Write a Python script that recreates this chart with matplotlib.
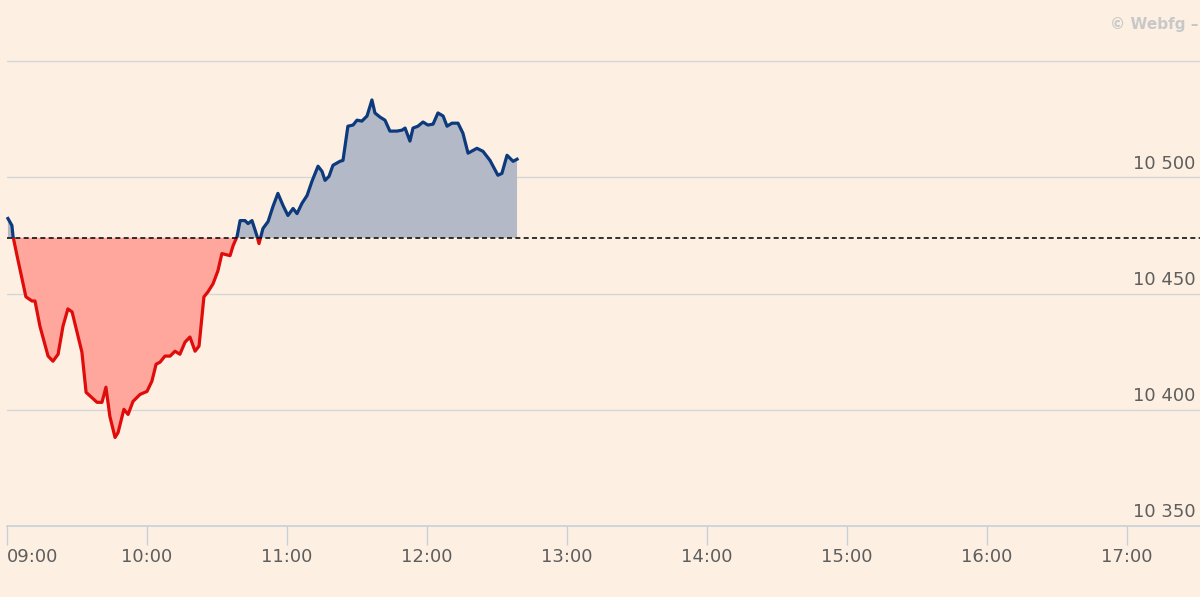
import matplotlib
matplotlib.use("Agg")
import matplotlib.pyplot as plt
from matplotlib.patches import Rectangle
import numpy as np

# minutes after 09:00
minutes = [0.4, 2.1, 2.6, 4.3, 8.1, 10.7, 12.0, 14.1, 17.6, 19.7, 21.9, 24.0, 26.1, 27.9,
           32.1, 33.9, 38.6, 40.7, 42.4, 44.1, 46.3, 47.6, 50.1, 51.9, 54.0, 57.0, 60.0,
           62.1, 63.9, 65.6, 67.7, 69.9, 72.0, 74.1, 76.3, 78.4, 80.6, 82.3, 84.4, 86.1,
           88.3, 90.4, 92.1, 95.6, 96.9, 98.6, 99.9, 102.0, 103.3, 105.0, 107.1, 108.0,
           109.7, 111.9, 114.0, 116.1, 118.3, 120.4, 122.6, 124.3, 126.4, 128.6, 130.7,
           133.3, 135.0, 136.3, 138.0, 139.7, 142.7, 144.0, 146.1, 148.3, 150.0, 152.1,
           154.3, 156.4, 157.7, 159.9, 162.0, 164.1, 167.1, 169.3, 170.6, 172.7, 174.0,
           176.1, 178.3, 180.4, 182.6, 184.7, 186.9, 188.6, 190.7, 193.3, 195.4, 197.6,
           201.4, 204.0, 207.0, 210.4, 212.1, 214.3, 216.9, 218.6]
values = [10482.3, 10479.3, 10474.5, 10466.3, 10448.6, 10446.8, 10446.8, 10436.0, 10423.1,
          10420.9, 10423.9, 10436.0, 10443.4, 10442.1, 10424.8, 10407.5, 10403.2, 10403.2,
          10409.7, 10397.1, 10388.1, 10390.2, 10400.2, 10398.0, 10403.6, 10406.6, 10407.9,
          10412.3, 10419.6, 10420.5, 10423.1, 10423.1, 10425.2, 10423.9, 10429.1, 10431.3,
          10425.2, 10427.4, 10448.6, 10450.7, 10454.2, 10459.8, 10467.2, 10466.3, 10470.6,
          10474.5, 10481.4, 10481.4, 10480.1, 10481.4, 10474.9, 10471.5, 10478.0, 10481.0,
          10487.5, 10493.1, 10487.9, 10483.6, 10486.6, 10484.4, 10488.8, 10492.2, 10498.3,
          10504.8, 10502.6, 10498.7, 10500.4, 10505.2, 10506.9, 10507.3, 10522.0, 10522.5,
          10524.6, 10524.2, 10526.4, 10533.3, 10527.7, 10525.9, 10524.6, 10519.9, 10519.9,
          10520.3, 10521.2, 10515.6, 10521.2, 10522.0, 10523.8, 10522.5, 10522.9, 10527.7,
          10526.4, 10522.0, 10523.3, 10523.3, 10519.0, 10510.4, 10512.5, 10511.2, 10507.3,
          10500.9, 10501.7, 10509.5, 10506.9, 10507.8]
previous_close = 10474
tick_minutes = [0, 60, 120, 180, 240, 300, 360, 420, 480]
tick_labels = ["09:00", "10:00", "11:00", "12:00", "13:00", "14:00", "15:00", "16:00", "17:00"]
y_ticks = [10350, 10400, 10450, 10500, 10550]
y_labels = ["10 350", "10 400", "10 450", "10 500", ""]

BG = "#fdf0e2"
x = np.array(minutes)
y = np.array(values)

fig = plt.figure(figsize=(12, 5.97), dpi=100, facecolor=BG)
ax = fig.add_axes([7/1200, 71/597, 1 - 7/1200, 526/597])
ax.set_facecolor(BG)
ax.set_xlim(0, 511.3)
ax.set_ylim(10350, 10576.3)

# grid lines
for v in y_ticks[1:]:
    ax.axhline(v, color="#d6d6d6", lw=1.0, zorder=1)

# fills
ax.fill_between(x, y, previous_close, where=y <= previous_close, interpolate=True,
                color="#ffa79c", lw=0, zorder=2)
ax.fill_between(x, y, previous_close, where=y >= previous_close, interpolate=True,
                color="#b4b9c7", lw=0, zorder=2)

# line, coloured by side of baseline
above = Rectangle((-10, previous_close), 600, 1000, transform=ax.transData)
below = Rectangle((-10, previous_close - 1000), 600, 1000, transform=ax.transData)
lb, = ax.plot(x, y, color="#0d3a7c", lw=2.3, zorder=4, solid_joinstyle="round")
lb.set_clip_path(above)
lr, = ax.plot(x, y, color="#e00b0b", lw=2.3, zorder=4, solid_joinstyle="round")
lr.set_clip_path(below)

# previous close dashed line
ax.axhline(previous_close, color="#111111", lw=1.2, ls=(0, (3, 2)), zorder=5)

# axes styling
for s in ["top", "right", "left"]:
    ax.spines[s].set_visible(False)
ax.spines["bottom"].set_color("#c5d0da")
ax.spines["bottom"].set_linewidth(1.2)
ax.set_yticks([])
ax.set_xticks(tick_minutes)
ax.set_xticklabels(tick_labels)
ax.tick_params(axis="x", length=14, width=1.0, colors="#c5d0da", labelcolor="#5e5e5e",
               labelsize=13, pad=2)
labs = ax.get_xticklabels()
labs[0].set_horizontalalignment("left")

# y labels on the right, above gridlines
for v, lab in zip(y_ticks, y_labels):
    if lab:
        ax.text(0.996, v + 2.0, lab, transform=ax.get_yaxis_transform(),
                ha="right", va="bottom", fontsize=13, color="#5e5e5e")

fig.text(1110/1200, 1 - 25/597, "\u00a9 Webfg \u2013", ha="left", va="center",
         fontsize=11, color="#c8c8c8", fontweight="bold")

fig.savefig("out.png", dpi=100, facecolor=BG)
